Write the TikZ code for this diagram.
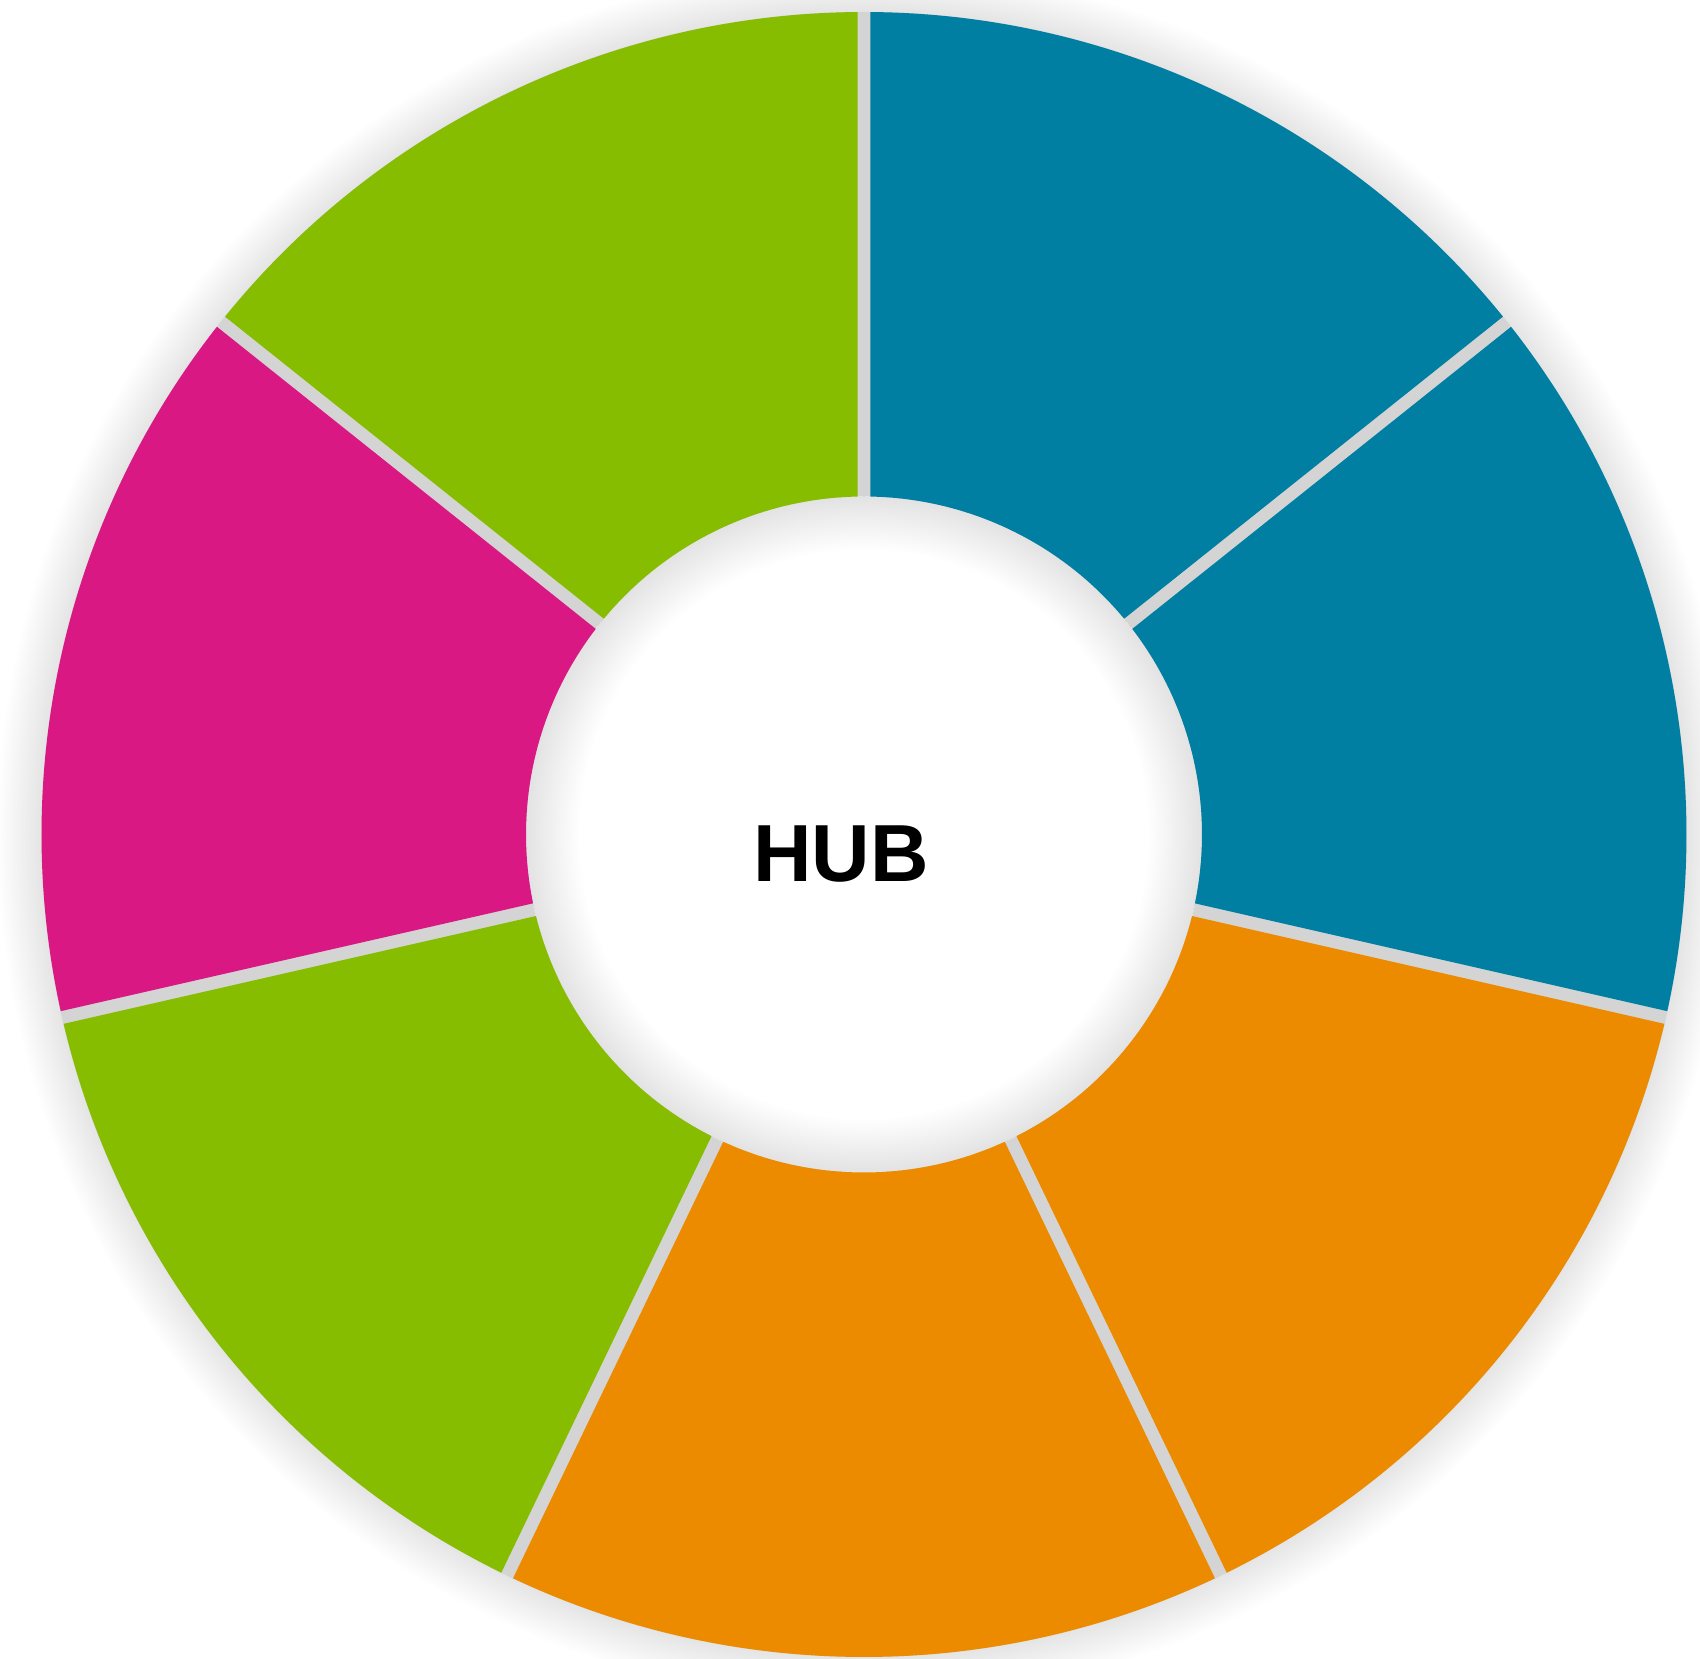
\documentclass[tikz,border=0pt]{standalone}
\usepackage{fontspec}
\setmainfont{Liberation Sans}
\definecolor{cblue}{HTML}{007FA3}
\definecolor{corange}{HTML}{EC8A00}
\definecolor{cgreen}{HTML}{86BD00}
\definecolor{cmag}{HTML}{DA1884}
\definecolor{cgap}{HTML}{D4D4D4}
\tikzset{
  seg/.style={fill=#1, draw=none},
  hubtext/.style={font=\fontsize{40.5}{48}\selectfont\bfseries, text=black, inner sep=0pt}
}
\begin{document}
\begin{tikzpicture}[x=0.5pt,y=0.5pt]
\useasboundingbox (-864,-823.5) rectangle (836,834.5);
\fill[white] (-864,-823.5) rectangle (836,834.5);
\def\Ro{822.5}
\def\Ri{338}
\def\hg{6.5}
% outer shadow
\foreach \i in {1,...,26}{
  \fill[black, opacity=0.0052] (0,0) circle ({\Ro+1.7*\i});
}
% gap ring
\fill[cgap] (0,0) circle (\Ro);
\fill[white] (0,0) circle (\Ri);
% inner shadow
\foreach \i in {1,...,28}{
  \fill[black, opacity=0.0048, even odd rule] (0,0) circle (\Ri) (0,0) circle ({\Ri-1.9*\i});
}
\pgfmathsetmacro{\dR}{asin(\hg/\Ro)}
\pgfmathsetmacro{\dr}{asin(\hg/\Ri)}
\foreach \k/\c in {0/cblue,1/cblue,2/corange,3/corange,4/cgreen,5/cmag,6/cgreen}{
  \pgfmathsetmacro{\ae}{90-\k*360/7}
  \pgfmathsetmacro{\as}{90-(\k+1)*360/7}
  \pgfmathsetmacro{\aso}{\as+\dR}
  \pgfmathsetmacro{\aeo}{\ae-\dR}
  \pgfmathsetmacro{\asi}{\as+\dr}
  \pgfmathsetmacro{\aei}{\ae-\dr}
  \fill[seg=\c] (\aso:\Ro) arc[start angle=\aso, end angle=\aeo, radius=\Ro]
     -- (\aei:\Ri) arc[start angle=\aei, end angle=\asi, radius=\Ri] -- cycle;
}
\node[hubtext] (hub) at (-23,-19.5) {HUB};
\end{tikzpicture}
\end{document}
